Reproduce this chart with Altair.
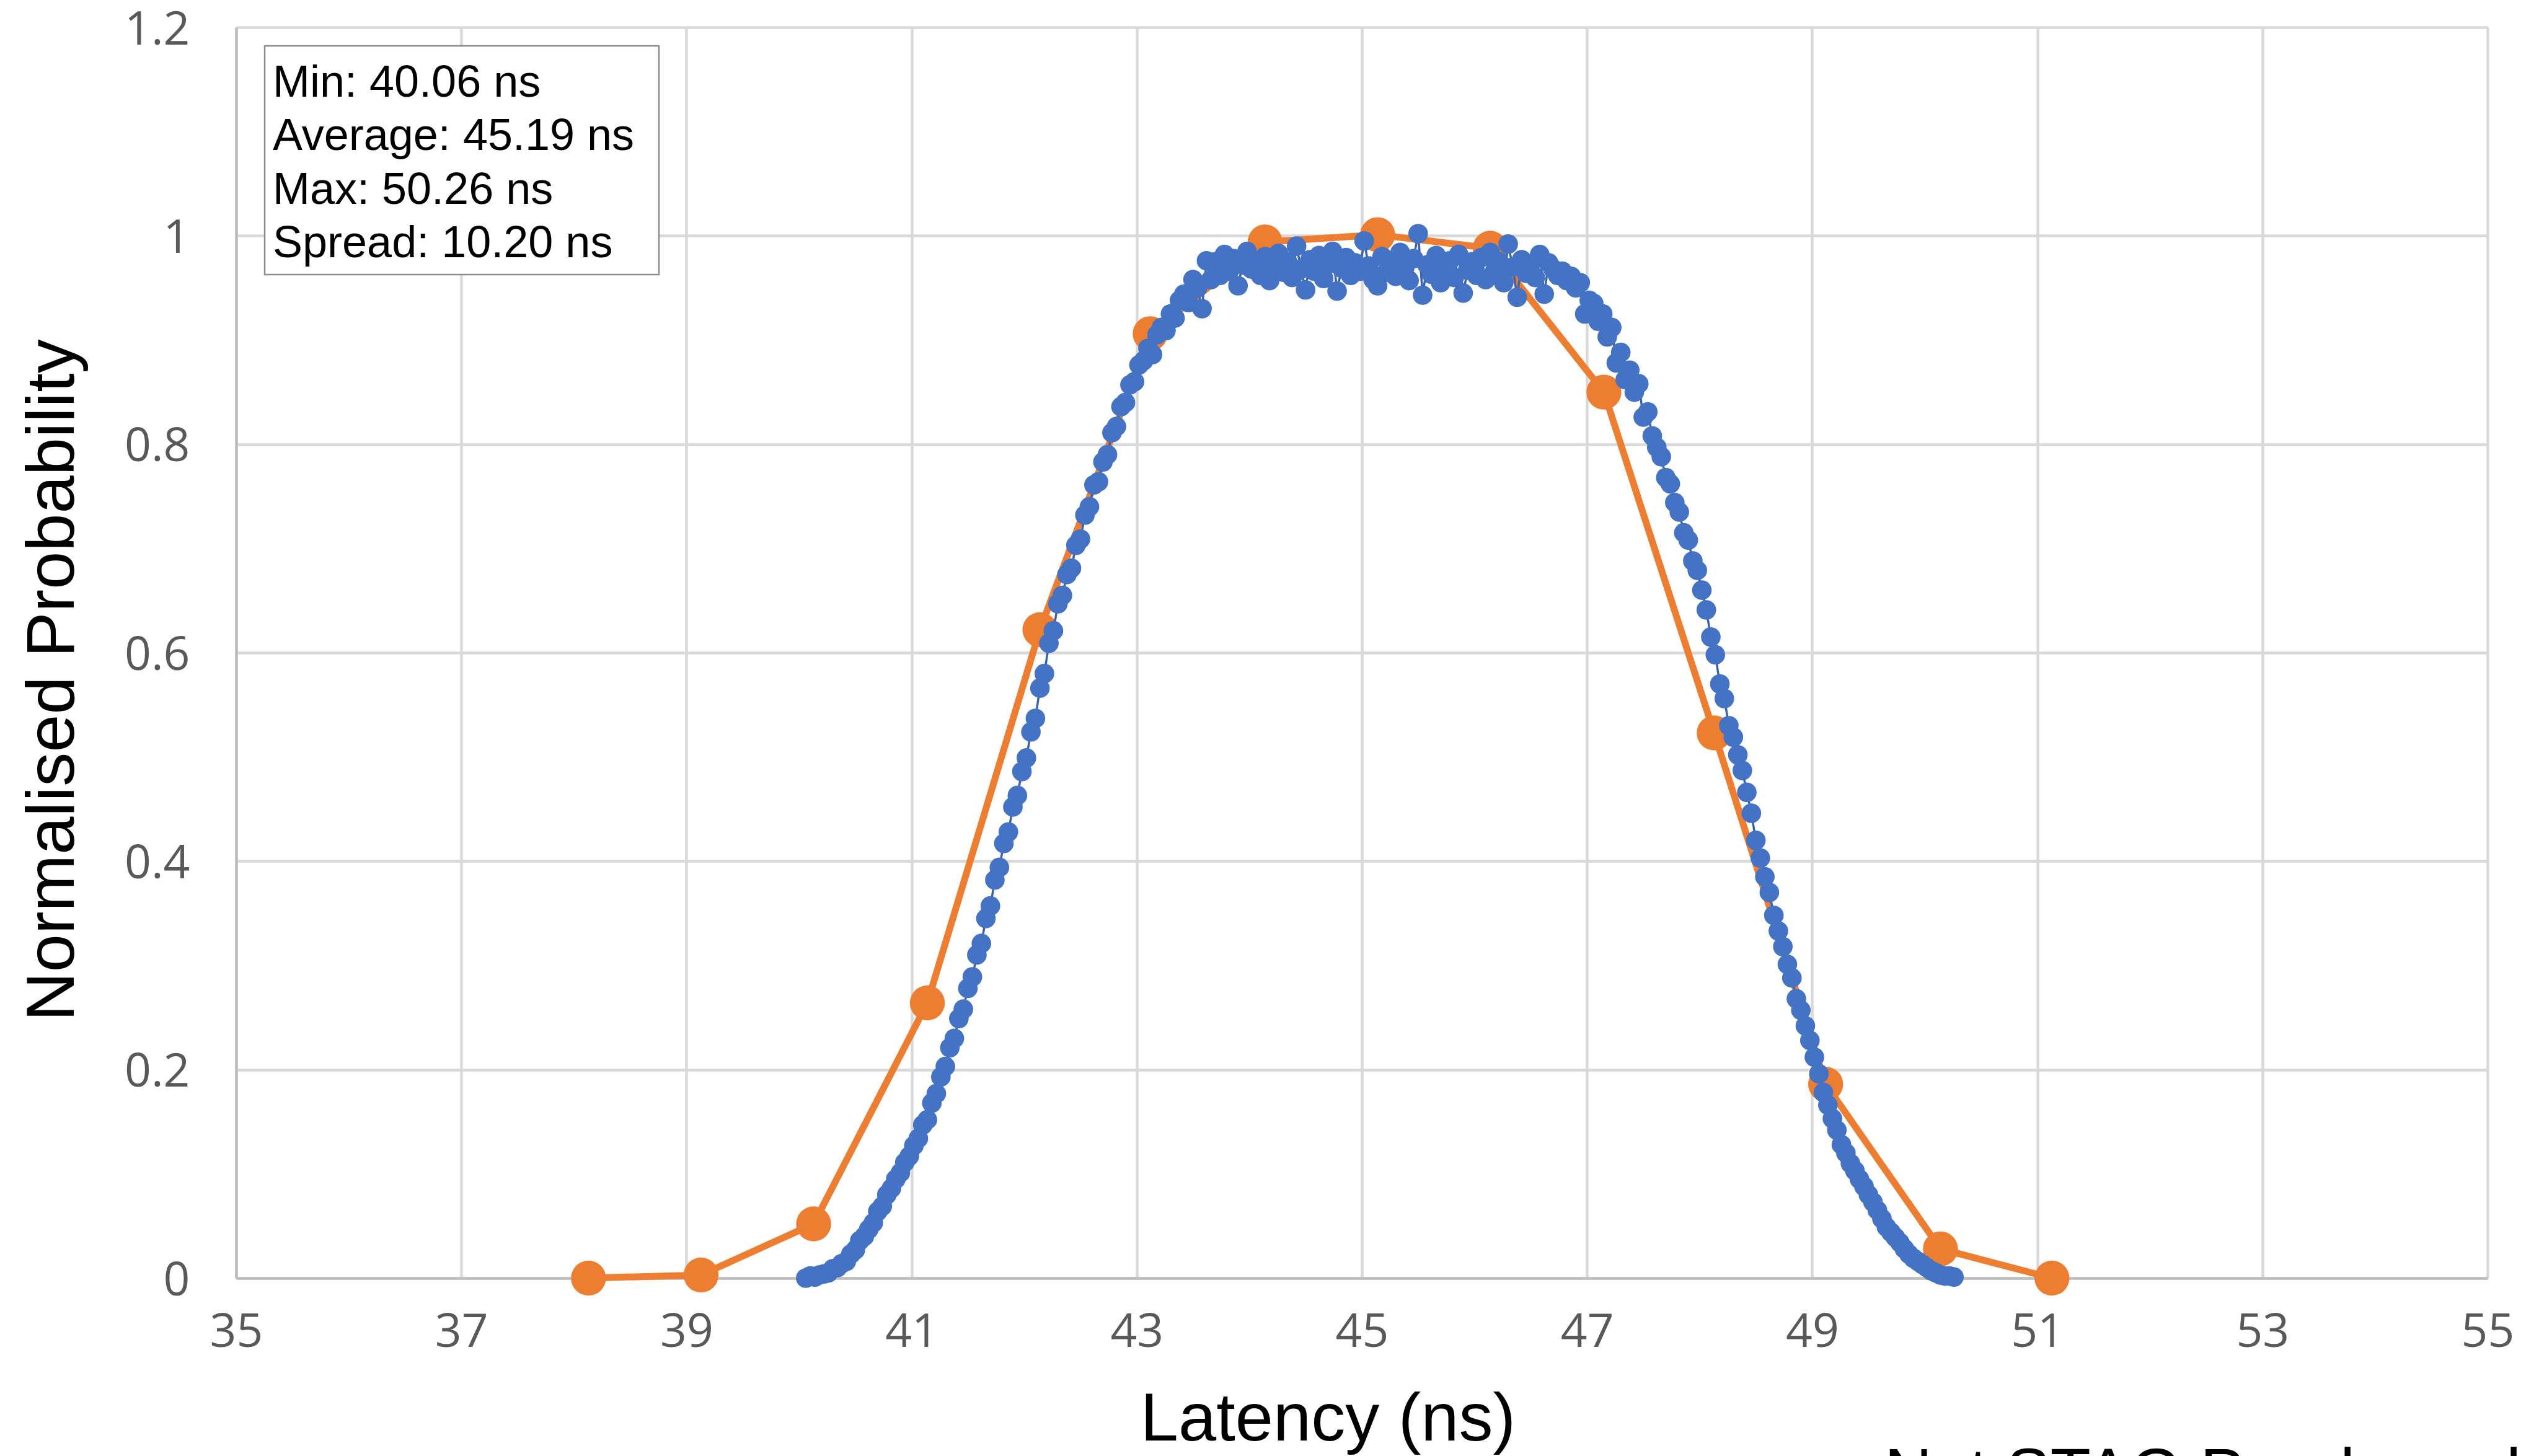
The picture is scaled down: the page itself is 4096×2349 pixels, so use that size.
import altair as alt
import pandas as pd

# ---------------- data ----------------
orange_x = [38.13, 39.13, 40.13, 41.14, 42.14, 43.12, 44.14, 45.14, 46.14, 47.15, 48.13, 49.12, 50.14, 51.13]
orange_y = [0.0, 0.003, 0.052, 0.264, 0.622, 0.906, 0.994, 1.001, 0.988, 0.850, 0.523, 0.186, 0.028, 0.0]

blue_start = 40.06
blue_step = 0.04
blue_y = [
    0.000, 0.002, 0.001, 0.003, 0.004, 0.005, 0.009, 0.010, 0.014, 0.016, 0.023, 0.027, 0.036,
    0.040, 0.047, 0.053, 0.064, 0.069, 0.080, 0.086, 0.095, 0.101, 0.111, 0.117, 0.127,
    0.134, 0.147, 0.152, 0.168, 0.177, 0.193, 0.203, 0.221, 0.230, 0.249, 0.258, 0.278, 0.289,
    0.310, 0.321, 0.345, 0.357, 0.382, 0.394, 0.417, 0.428, 0.452, 0.463, 0.486, 0.499,
    0.524, 0.537, 0.566, 0.580, 0.609, 0.621, 0.647, 0.655, 0.675, 0.681, 0.703, 0.709, 0.732,
    0.740, 0.761, 0.764, 0.783, 0.790, 0.811, 0.817, 0.836, 0.840, 0.857, 0.860, 0.876,
    0.880, 0.892, 0.886, 0.905, 0.912, 0.909, 0.925, 0.921, 0.938, 0.944, 0.936, 0.958, 0.950,
    0.930, 0.976, 0.958, 0.975, 0.962, 0.982, 0.966, 0.978, 0.952, 0.972, 0.985, 0.968,
    0.974, 0.962, 0.980, 0.957, 0.971, 0.983, 0.965, 0.975, 0.960, 0.990, 0.968, 0.948, 0.977,
    0.966, 0.981, 0.959, 0.973, 0.985, 0.947, 0.969, 0.979, 0.962, 0.974, 0.966, 0.995,
    0.971, 0.958, 0.952, 0.980, 0.965, 0.976, 0.961, 0.984, 0.969, 0.957, 0.978, 1.002, 0.943,
    0.972, 0.963, 0.981, 0.955, 0.970, 0.976, 0.960, 0.982, 0.945, 0.967, 0.975, 0.962,
    0.979, 0.958, 0.984, 0.966, 0.975, 0.955, 0.992, 0.970, 0.941, 0.977, 0.964, 0.973, 0.960,
    0.982, 0.944, 0.974, 0.968, 0.962, 0.966, 0.957, 0.961, 0.950, 0.955, 0.925, 0.938,
    0.935, 0.918, 0.925, 0.903, 0.912, 0.878, 0.888, 0.862, 0.871, 0.850, 0.858, 0.826, 0.831,
    0.808, 0.797, 0.788, 0.768, 0.762, 0.744, 0.735, 0.715, 0.708, 0.688, 0.679, 0.660,
    0.641, 0.615, 0.598, 0.570, 0.556, 0.530, 0.519, 0.502, 0.487, 0.466, 0.446, 0.420, 0.403,
    0.385, 0.370, 0.348, 0.333, 0.318, 0.301, 0.288, 0.268, 0.257, 0.242, 0.228, 0.212,
    0.196, 0.178, 0.166, 0.153, 0.142, 0.128, 0.120, 0.110, 0.103, 0.095, 0.088, 0.080, 0.073,
    0.065, 0.057, 0.049, 0.044, 0.039, 0.034, 0.028, 0.023, 0.019, 0.016, 0.013, 0.010,
    0.007, 0.005, 0.003, 0.002, 0.002, 0.001,
]
blue_x = [round(blue_start + blue_step * i, 2) for i in range(len(blue_y))]

stats_lines = ["Min: 40.06 ns", "Average: 45.19 ns", "Max: 50.26 ns", "Spread: 10.20 ns"]
x_ticks = [35, 37, 39, 41, 43, 45, 47, 49, 51, 53, 55]
y_ticks = [0, 0.2, 0.4, 0.6, 0.8, 1.0, 1.2]
x_title = "Latency (ns)"
y_title = "Normalised Probability"
footer_text = "Not STAG Purple and"

orange_df = pd.DataFrame({"x": orange_x, "y": orange_y})
blue_df = pd.DataFrame({"x": blue_x, "y": blue_y})
one_row = pd.DataFrame({"k": [0]})

ORANGE = "#ED7D31"
BLUE = "#4472C4"

x_scale = alt.Scale(domain=[35, 55], nice=False, zero=False)
y_scale = alt.Scale(domain=[0, 1.2], nice=False, zero=False)

x_axis = alt.Axis(
    values=x_ticks, format="d", grid=True, gridColor="#d9d9d9", gridWidth=4.5,
    domainColor="#bfbfbf", domainWidth=4.5, ticks=False, tickSize=0,
    labelFont="Open Sans", labelFontSize=75, labelColor="#595959",
    labelPadding=110, labelBaseline="alphabetic", labelFlush=False, labelOverlap=False,
    title=x_title, titleFont="Liberation Sans", titleFontSize=110, titleFontWeight="normal",
    titleColor="#000000", titleX=1761, titleY=261, titleBaseline="alphabetic", titleAlign="center",
)
y_axis = alt.Axis(
    values=y_ticks, format="~g", grid=True, gridColor="#d9d9d9", gridWidth=4.5,
    domainColor="#bfbfbf", domainWidth=4.5, ticks=False, tickSize=0,
    labelFont="Open Sans", labelFontSize=75, labelColor="#595959",
    labelPadding=75, labelBaseline="alphabetic", labelOffset=27, labelFlush=False, labelOverlap=False,
    title=y_title, titleFont="Liberation Sans", titleFontSize=110, titleFontWeight="normal",
    titleColor="#000000", titleX=-263, titleY=1053, titleAngle=270,
    titleBaseline="alphabetic", titleAlign="center",
)

enc = dict(
    x=alt.X("x:Q", scale=x_scale, axis=x_axis),
    y=alt.Y("y:Q", scale=y_scale, axis=y_axis),
)

orange_line = alt.Chart(orange_df).mark_line(color=ORANGE, strokeWidth=11).encode(**enc)
orange_pts = alt.Chart(orange_df).mark_circle(color=ORANGE, size=3180, opacity=1).encode(**enc)
blue_line = alt.Chart(blue_df).mark_line(color="#3A62AC", strokeWidth=3.5).encode(**enc)
blue_pts = alt.Chart(blue_df).mark_circle(color=BLUE, size=1000, opacity=1).encode(**enc)

box = alt.Chart(one_row).mark_rect(fill="white", stroke="#8c8c8c", strokeWidth=2.5).encode(
    x=alt.value(46), x2=alt.value(682), y=alt.value(30), y2=alt.value(399)
)
box_text = alt.Chart(one_row).mark_text(
    align="left", baseline="alphabetic", font="Liberation Sans", fontSize=72,
    lineHeight=86.5, color="#000000"
).encode(x=alt.value(59), y=alt.value(111.5), text=alt.value(stats_lines))

footer = alt.Chart(one_row).mark_text(
    align="left", baseline="alphabetic", font="Liberation Sans", fontSize=107, color="#000000"
).encode(x=alt.value(2659), y=alt.value(2368), text=alt.value(footer_text))

chart = alt.layer(
    orange_line, orange_pts, blue_line, blue_pts, box, box_text, footer
).properties(
    width=3632, height=2018,
    autosize=alt.AutoSizeParams(type="none"),
    padding={"left": 373, "top": 36, "right": 75, "bottom": 287},
    background="white",
).configure_view(strokeWidth=0)

chart.save("out.html", embed_options={"renderer": "svg", "actions": False})
